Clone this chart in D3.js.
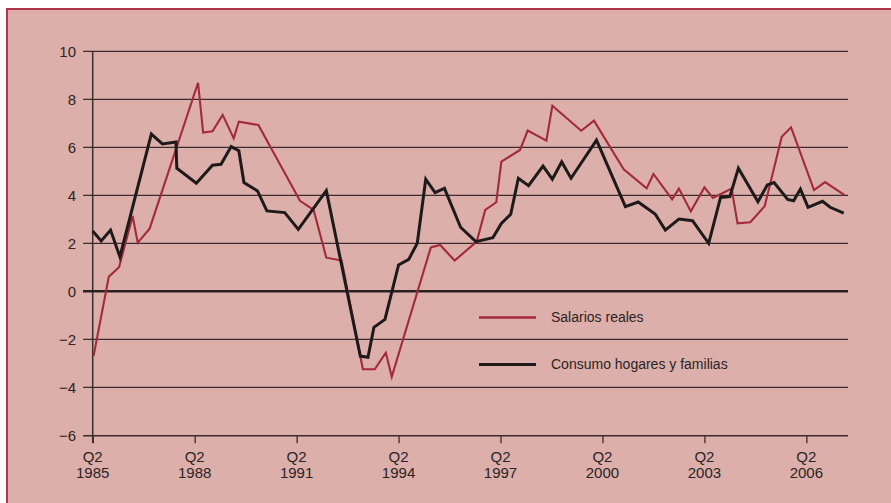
<!DOCTYPE html>
<html>
<head>
<meta charset="utf-8">
<script src="https://cdn.jsdelivr.net/npm/d3@7"></script>
<style>
  html, body { margin: 0; padding: 0; background: #ffffff; }
  svg { display: block; }
</style>
</head>
<body>
<svg id="chart" width="891" height="503"></svg>
<script>
// Period = quarters elapsed since Q2 1985
const tickPeriods = [0, 12, 24, 36, 48, 60, 72, 84];
const tickYears = ["1985", "1988", "1991", "1994", "1997", "2000", "2003", "2006"];
const yTicks = [-6, -4, -2, 0, 2, 4, 6, 8, 10];

// Real wages (annual % change)
const salariosPeriod = [0.1, 1.9, 3.1, 4.7, 5.3, 6.7, 12.4, 13.0, 14.1, 15.3, 16.6, 17.2, 19.5, 24.4, 26.0, 27.5, 29.3, 31.8, 33.2, 34.5, 35.2, 39.8, 40.9, 42.6, 45.2, 46.2, 47.5, 48.1, 50.3, 51.2, 53.4, 54.1, 57.5, 59.0, 62.5, 65.2, 66.0, 68.2, 69.0, 70.4, 72.0, 73.0, 75.2, 75.9, 77.4, 79.1, 81.1, 82.2, 84.9, 86.2, 88.5];
const salariosValue = [-2.70, 0.61, 1.00, 3.14, 2.03, 2.61, 8.69, 6.61, 6.67, 7.35, 6.37, 7.07, 6.93, 3.77, 3.39, 1.40, 1.28, -3.25, -3.25, -2.56, -3.56, 1.83, 1.93, 1.28, 2.07, 3.39, 3.71, 5.40, 5.89, 6.70, 6.28, 7.73, 6.69, 7.11, 5.08, 4.29, 4.89, 3.83, 4.28, 3.33, 4.33, 3.89, 4.28, 2.83, 2.88, 3.55, 6.44, 6.83, 4.22, 4.55, 4.01];

// Household consumption (annual % change)
const consumoPeriod = [0.0, 1.0, 2.1, 3.2, 6.9, 8.2, 9.8, 9.9, 12.2, 14.1, 15.1, 16.3, 17.2, 17.8, 19.4, 20.5, 22.6, 24.2, 27.5, 31.5, 32.4, 33.1, 34.4, 36.0, 37.2, 38.2, 39.2, 40.3, 41.4, 43.3, 45.1, 47.1, 48.1, 49.2, 50.1, 51.3, 53.0, 54.1, 55.2, 56.3, 59.3, 62.7, 64.2, 66.2, 67.4, 69.0, 70.6, 72.5, 73.9, 75.0, 76.0, 78.3, 79.4, 80.2, 81.8, 82.5, 83.3, 84.2, 85.9, 86.8, 88.4];
const consumoValue = [2.51, 2.10, 2.55, 1.44, 6.55, 6.14, 6.22, 5.13, 4.50, 5.25, 5.29, 6.03, 5.86, 4.53, 4.18, 3.35, 3.28, 2.58, 4.19, -2.70, -2.75, -1.50, -1.17, 1.10, 1.33, 2.00, 4.67, 4.11, 4.29, 2.67, 2.07, 2.23, 2.83, 3.21, 4.71, 4.40, 5.22, 4.67, 5.39, 4.71, 6.30, 3.53, 3.72, 3.22, 2.55, 3.01, 2.94, 2.00, 3.91, 3.95, 5.13, 3.73, 4.43, 4.53, 3.83, 3.77, 4.26, 3.50, 3.75, 3.50, 3.26];

const seriesNames = ["Salarios reales", "Consumo hogares y familias"];
const seriesColors = ["#a22a3a", "#1e1a1a"];

const salarios = salariosPeriod.map((p, i) => ({ p, v: salariosValue[i] }));
const consumo = consumoPeriod.map((p, i) => ({ p, v: consumoValue[i] }));

const svg = d3.select("#chart");
const W = 891, H = 503;

// Panel background with red frame on top and left
svg.append("rect").attr("x", 0).attr("y", 0).attr("width", W).attr("height", H).attr("fill", "#ffffff");
svg.append("rect").attr("x", 7).attr("y", 9).attr("width", W - 7).attr("height", H - 9).attr("fill", "#ddafaa");
svg.append("path").attr("d", `M7,${H} V9 H${W}`).attr("fill", "none").attr("stroke", "#b23447").attr("stroke-width", 2);

const x = d3.scaleLinear().domain([0, 88.9]).range([92.7, 848]);
const y = d3.scaleLinear().domain([-6, 10]).range([435.3, 51.3]);

const font = "'Liberation Sans', Arial, sans-serif";
const textColor = "#2a2424";

// Horizontal gridlines (extend left of the axis as ticks)
svg.append("g").selectAll("line").data(yTicks.filter(d => d !== 0 && d !== -6)).join("line")
  .attr("x1", 83).attr("x2", 848)
  .attr("y1", d => y(d)).attr("y2", d => y(d))
  .attr("stroke", "#3b2d2d").attr("stroke-width", 1.3);

// Y tick labels
svg.append("g").selectAll("text").data(yTicks).join("text")
  .attr("x", 76).attr("y", d => y(d)).attr("dy", "0.36em")
  .attr("text-anchor", "end")
  .attr("font-family", font).attr("font-size", 15).attr("fill", textColor)
  .text(d => d < 0 ? "\u2212" + Math.abs(d) : d);

// Bottom axis
const xAxis = d3.axisBottom(x).tickValues(tickPeriods).tickSize(8).tickFormat("");
const gx = svg.append("g").attr("transform", `translate(0,${y(-6)})`).call(xAxis);
gx.select(".domain").attr("d", `M83,0.5H848`).attr("stroke", "#3b2d2d").attr("stroke-width", 1.5);
gx.selectAll(".tick line").attr("stroke", "#3b2d2d").attr("stroke-width", 1.3);

const labels = svg.append("g").selectAll("text").data(tickPeriods).join("text")
  .attr("x", d => x(d)).attr("y", 461.5)
  .attr("text-anchor", "middle")
  .attr("font-family", font).attr("font-size", 15).attr("fill", textColor);
labels.append("tspan").attr("x", d => x(d)).text("Q2");
labels.append("tspan").attr("x", d => x(d)).attr("dy", 16.8).text((d, i) => tickYears[i]);

// Vertical axis
svg.append("line").attr("x1", x(0)).attr("x2", x(0)).attr("y1", y(10)).attr("y2", 443)
  .attr("stroke", "#3b2d2d").attr("stroke-width", 1.5);

// Zero line
svg.append("line").attr("x1", 83).attr("x2", 848).attr("y1", y(0)).attr("y2", y(0))
  .attr("stroke", "#2a2222").attr("stroke-width", 2.6);

const line = d3.line().x(d => x(d.p)).y(d => y(d.v));

svg.append("path").datum(salarios).attr("d", line)
  .attr("fill", "none").attr("stroke", seriesColors[0]).attr("stroke-width", 2.1)
  .attr("stroke-linejoin", "miter");
svg.append("path").datum(consumo).attr("d", line)
  .attr("fill", "none").attr("stroke", seriesColors[1]).attr("stroke-width", 3)
  .attr("stroke-linejoin", "miter");

// Legend
const legend = svg.append("g");
const legendY = [317.5, 364.5];
seriesNames.forEach((name, i) => {
  legend.append("line").attr("x1", 479).attr("x2", 536).attr("y1", legendY[i]).attr("y2", legendY[i])
    .attr("stroke", seriesColors[i]).attr("stroke-width", i === 0 ? 2.3 : 3);
  legend.append("text").attr("x", 551).attr("y", legendY[i]).attr("dy", "0.35em")
    .attr("font-family", font).attr("font-size", 14).attr("fill", textColor)
    .text(name);
});
</script>
</body>
</html>
